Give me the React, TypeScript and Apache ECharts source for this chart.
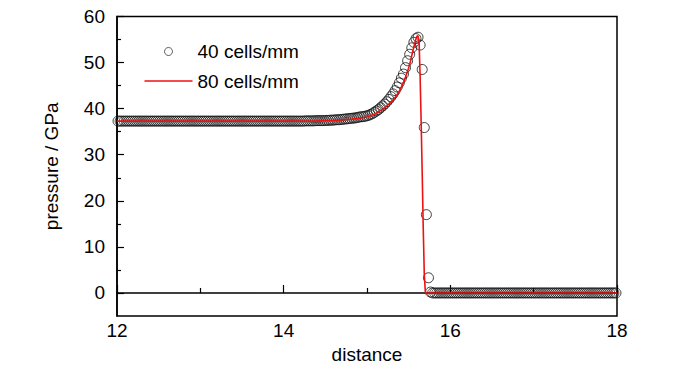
import React, { useEffect, useRef } from "react";
import * as echarts from "echarts";

// 40 cells/mm results (cell-centred, dx = 0.025 mm, starting at 12 mm)
const cellsPerMm40 = 40;
const pressure40: number[] = [
  37.3, 37.3, 37.3, 37.3, 37.3, 37.3, 37.3, 37.3, 37.3, 37.3,
  37.3, 37.3, 37.3, 37.3, 37.3, 37.3, 37.3, 37.3, 37.3, 37.3,
  37.3, 37.3, 37.3, 37.3, 37.3, 37.3, 37.3, 37.3, 37.3, 37.3,
  37.3, 37.3, 37.3, 37.3, 37.3, 37.3, 37.3, 37.3, 37.3, 37.3,
  37.3, 37.3, 37.3, 37.3, 37.3, 37.3, 37.3, 37.3, 37.3, 37.3,
  37.3, 37.3, 37.3, 37.3, 37.3, 37.3, 37.3, 37.3, 37.3, 37.3,
  37.3, 37.3, 37.3, 37.3, 37.3, 37.3, 37.3, 37.3, 37.3, 37.3,
  37.3, 37.3, 37.3, 37.3, 37.3, 37.3, 37.3, 37.3, 37.3, 37.3,
  37.3, 37.3, 37.3, 37.3, 37.3, 37.3, 37.3, 37.3, 37.3, 37.3,
  37.35, 37.35, 37.35, 37.35, 37.35, 37.4, 37.4, 37.4, 37.4, 37.4,
  37.45, 37.45, 37.5, 37.5, 37.55, 37.6, 37.6, 37.65, 37.7, 37.75,
  37.8, 37.85, 37.9, 37.95, 38.0, 38.1, 38.2, 38.25, 38.3, 38.4,
  38.5, 38.7, 38.9, 39.2, 39.5, 39.8, 40.2, 40.6, 41.0, 41.5,
  42.0, 42.6, 43.2, 43.9, 44.7, 45.6, 46.6, 47.5, 48.9, 50.4,
  51.8, 53.2, 54.4, 55.2, 55.5, 53.8, 48.5, 35.9, 17.0, 3.3,
  0.2, 0, 0, 0, 0, 0, 0, 0, 0, 0,
  0, 0, 0, 0, 0, 0, 0, 0, 0, 0,
  0, 0, 0, 0, 0, 0, 0, 0, 0, 0,
  0, 0, 0, 0, 0, 0, 0, 0, 0, 0,
  0, 0, 0, 0, 0, 0, 0, 0, 0, 0,
  0, 0, 0, 0, 0, 0, 0, 0, 0, 0,
  0, 0, 0, 0, 0, 0, 0, 0, 0, 0,
  0, 0, 0, 0, 0, 0, 0, 0, 0, 0,
  0, 0, 0, 0, 0, 0, 0, 0, 0, 0,
];

// 80 cells/mm results
const distance80: number[] = [
  12.0, 13.0, 14.0, 14.4, 14.6, 14.8, 14.9, 15.0, 15.1, 15.2,
  15.3, 15.35, 15.4, 15.45, 15.5, 15.525, 15.55, 15.575, 15.5875, 15.6,
  15.6125, 15.625, 15.6375, 15.65, 15.6625, 15.675, 15.6875, 15.7, 15.7125, 15.725,
  16.0, 17.0, 18.0,
];
const pressure80: number[] = [
  37.3, 37.3, 37.3, 37.35, 37.45, 37.7, 37.9, 38.2, 38.9, 40.0,
  41.6, 42.7, 44.2, 46.2, 48.8, 50.5, 52.5, 54.3, 55.1, 55.7,
  55.8, 54.5, 47.0, 37.0, 26.0, 14.0, 4.0, 0.3, -0.2, 0.0,
  0.0, 0.0, 0.0,
];

const seriesNames = ["40 cells/mm", "80 cells/mm"];
const xMin = 12;
const xMax = 18;
const xInterval = 2;
const yMin = -5;
const yMax = 60;
const yMajorTicks = [0, 10, 20, 30, 40, 50, 60];
const yMinorTicks = [5, 15, 25, 35, 45, 55];

const FONT = "'Liberation Sans', Arial, sans-serif";
const RED = "#ee1111";

export default function App() {
  const ref = useRef<HTMLDivElement>(null);

  useEffect(() => {
    if (!ref.current) return;
    const chart = echarts.init(ref.current, undefined, { renderer: "svg" });

    const data40 = pressure40.map((p, i) => [xMin + (i + 0.5) / cellsPerMm40, p]);
    const data80 = distance80.map((d, i) => [d, pressure80[i]]);

    const black = "#000";
    const axisLine = { show: true, lineStyle: { color: black, width: 1.5 } };

    chart.setOption({
      animation: false,
      backgroundColor: "#fff",
      textStyle: { fontFamily: FONT },
      grid: {
        left: 117,
        right: 83,
        top: 16.5,
        bottom: 58,
        show: true,
        borderColor: black,
        borderWidth: 1.5,
        backgroundColor: "transparent",
      },
      legend: {
        orient: "vertical",
        left: 144.5,
        top: 42,
        padding: 0,
        itemWidth: 48,
        itemHeight: 8,
        itemGap: 10.5,
        textStyle: { fontSize: 19, color: black, fontFamily: FONT },
        data: [
          {
            name: seriesNames[0],
            icon: "circle",
            itemStyle: { color: "rgba(0,0,0,0)", borderColor: "#333", borderWidth: 1 },
          },
          {
            name: seriesNames[1],
            icon: "path://M0,0L48,0L48,1.6L0,1.6Z",
            itemStyle: { color: RED, borderWidth: 0 },
          },
        ],
      },
      xAxis: {
        type: "value",
        min: xMin,
        max: xMax,
        interval: xInterval,
        name: "distance",
        nameLocation: "middle",
        nameGap: 29,
        nameTextStyle: { fontSize: 19, color: black, fontFamily: FONT },
        axisLine,
        axisTick: { show: true, inside: true, length: 8, lineStyle: { color: black, width: 1.2 } },
        minorTick: { show: true, splitNumber: 2, length: 5, lineStyle: { color: black, width: 1.2 } },
        axisLabel: { fontSize: 19, color: black, margin: 5, fontFamily: FONT },
        splitLine: { show: false },
      },
      yAxis: [
        {
          type: "value",
          min: yMin,
          max: yMax,
          position: "left",
          name: "pressure / GPa",
          nameLocation: "middle",
          nameGap: 56,
          nameTextStyle: { fontSize: 19, color: black, fontFamily: FONT },
          axisLine,
          axisTick: {
            show: true,
            inside: true,
            length: 7,
            customValues: yMajorTicks,
            lineStyle: { color: black, width: 1.2 },
          },
          axisLabel: {
            fontSize: 19,
            color: black,
            margin: 12,
            fontFamily: FONT,
            customValues: yMajorTicks,
          },
          splitLine: { show: false },
        },
        {
          type: "value",
          min: yMin,
          max: yMax,
          position: "left",
          axisLine: { show: false },
          axisTick: {
            show: true,
            inside: true,
            length: 4,
            customValues: yMinorTicks,
            lineStyle: { color: black, width: 1.2 },
          },
          axisLabel: { show: false },
          splitLine: { show: false },
        },
      ],
      series: [
        {
          name: seriesNames[0],
          type: "scatter",
          data: data40,
          symbol: "circle",
          symbolSize: 10,
          itemStyle: { color: "rgba(0,0,0,0)", borderColor: "#111", borderWidth: 1 },
          clip: true,
          z: 2,
        },
        {
          name: seriesNames[1],
          type: "line",
          data: data80,
          symbol: "none",
          showSymbol: false,
          lineStyle: { color: RED, width: 1.6 },
          itemStyle: { color: RED },
          clip: true,
          z: 3,
        },
      ],
    });

    return () => chart.dispose();
  }, []);

  return (
    <div
      ref={ref}
      style={{ position: "absolute", left: 0, top: 0, width: 700, height: 374 }}
    />
  );
}
